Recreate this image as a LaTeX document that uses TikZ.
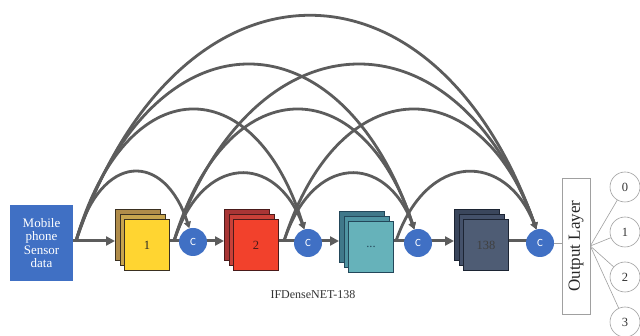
\documentclass[tikz,border=0pt]{standalone}
\usepackage{fontspec}
\setmainfont{Liberation Serif}
\newfontfamily\cfont{Carlito}
\usetikzlibrary{arrows.meta,calc}

\definecolor{cblue}{HTML}{4070C4}
\definecolor{arcgray}{HTML}{5C5C5C}
\definecolor{thingray}{HTML}{A0A0A0}
\definecolor{ylwF}{HTML}{FFD531}
\definecolor{ylwM}{HTML}{C8A54E}
\definecolor{ylwB}{HTML}{B08C4A}
\definecolor{ylwD}{HTML}{3A3020}
\definecolor{redF}{HTML}{F2412C}
\definecolor{redM}{HTML}{C94038}
\definecolor{redB}{HTML}{A83535}
\definecolor{redD}{HTML}{4A1A1A}
\definecolor{tealF}{HTML}{66B2BA}
\definecolor{tealM}{HTML}{4F94A2}
\definecolor{tealB}{HTML}{40788A}
\definecolor{tealD}{HTML}{23475A}
\definecolor{slateF}{HTML}{4E5C74}
\definecolor{slateM}{HTML}{44516A}
\definecolor{slateB}{HTML}{3A465C}
\definecolor{slateD}{HTML}{1C2433}

% three stacked feature-map layers: name, x, y (front top-left), back, mid, front, border, label
\newcommand\stackblock[8]{%
  \node[layer=#7,fill=#4] (#1-b) at (#2-9,#3-10) {};
  \node[layer=#7,fill=#5] (#1-m) at (#2-4.5,#3-5) {};
  \node[layer=#7,fill=#6] (#1) at (#2,#3) {#8};
}

% dense skip connection from a source point to a concatenation node
\newcommand\densearc[3]{%
  \draw[arcline] let \p1=(#1), \p2=(#2) in
    (\p1) .. controls ({\x1+0.22*(\x2-\x1)},{(#3)*(-1pt)})
          and ({\x2-0.22*(\x2-\x1)},{(#3)*(-1pt)}) .. (\p2);
}

\begin{document}
\begin{tikzpicture}[x=1pt,y=-1pt,
  arcline/.style={draw=arcgray,line width=2.8pt,-{Triangle[length=6.5pt,width=7pt]}},
  flow/.style={draw=arcgray,line width=3pt},
  flowarrow/.style={flow,-{Triangle[length=9pt,width=9pt]}},
  cnode/.style={circle,fill=cblue,minimum size=28pt,inner sep=0pt,text=white,
    font=\cfont\fontsize{11}{11}\selectfont},
  layer/.style={draw=#1,line width=0.9pt,minimum width=45pt,minimum height=51pt,
    inner sep=0pt,anchor=north west,font=\fontsize{12.5}{12.5}\selectfont,text=black!85},
  outcircle/.style={circle,draw=thingray,line width=0.6pt,fill=white,minimum size=30pt,
    inner sep=0pt,font=\fontsize{12.5}{12.5}\selectfont,text=black!80},
  fan/.style={draw=thingray,line width=0.6pt}]

\useasboundingbox[fill=white] (0,0) rectangle (640,336);

% input
\node[fill=cblue,minimum width=63pt,minimum height=76pt,inner sep=0pt,text=white,
  align=center,font=\fontsize{13}{13.4}\selectfont] (inbox) at (41.5,243)
  {Mobile\\phone\\Sensor\\data};

% dense blocks
\stackblock{b1}{124}{219}{ylwB}{ylwM}{ylwF}{ylwD}{1}
\stackblock{b2}{233}{219}{redB}{redM}{redF}{redD}{\textcolor{redD}{2}}
\stackblock{b3}{348}{221}{tealB}{tealM}{tealF}{tealD}{\textcolor{tealD}{...}}
\stackblock{b4}{463}{219}{slateB}{slateM}{slateF}{slateD}{\textcolor{black!75}{138}}

% branch points of the skip connections
\coordinate (s0) at (76,241);
\coordinate (s1) at (174,241);
\coordinate (s2) at (284,241);
\coordinate (s3) at (396,241);

% main flow
\draw[flowarrow] (inbox.east |- s0) -- (b1-b.west |- s0);
\draw[flow] (b1.east |- s1) -- (193,241);
\draw[flowarrow] (193,241) -- (b2-b.west |- s1);
\draw[flow] (b2.east |- s2) -- (308,241);
\draw[flowarrow] (308,241) -- (b3-b.west |- s2);
\draw[flow] (b3.east |- s3) -- (418,241);
\draw[flowarrow] (418,241) -- (b4-b.west |- s3);
\draw[flow] (b4.east |- s3) -- (540,241);

% concatenation nodes
\node[cnode] (c1) at (193,242) {C};
\node[cnode] (c2) at (308,243) {C};
\node[cnode] (c3) at (418,243) {C};
\node[cnode] (c4) at (540,243) {C};

% skip connections
\densearc{s0}{c1.105}{151}
\densearc{s0}{c2.105}{68}
\densearc{s0}{c3.105}{8}
\densearc{s0}{c4.105}{-57}
\densearc{s1}{c2.105}{153}
\densearc{s1}{c3.105}{68}
\densearc{s1}{c4.105}{8}
\densearc{s2}{c3.105}{153}
\densearc{s2}{c4.105}{68}
\densearc{s3}{c4.105}{151}

% output layer
\node[draw=thingray,line width=0.6pt,fill=white,minimum width=28pt,minimum height=136pt,
  inner sep=0pt] (out) at (576,246) {};
\node[rotate=90,font=\fontsize{17}{17}\selectfont,text=black!85] at (out.center) {Output Layer};
\draw[fan] (c4.east) -- (c4.east -| out.west);

\node[outcircle] (o0) at (625,187) {0};
\node[outcircle] (o1) at (625,232) {1};
\node[outcircle] (o2) at (625,277) {2};
\node[outcircle] (o3) at (625,322) {3};
\foreach \k in {0,1,2,3} \draw[fan] (out.east) -- (o\k);

% caption
\node[font=\fontsize{12}{12}\selectfont,text=black!80] (title) at (313,295) {IFDenseNET-138};
\end{tikzpicture}
\end{document}
